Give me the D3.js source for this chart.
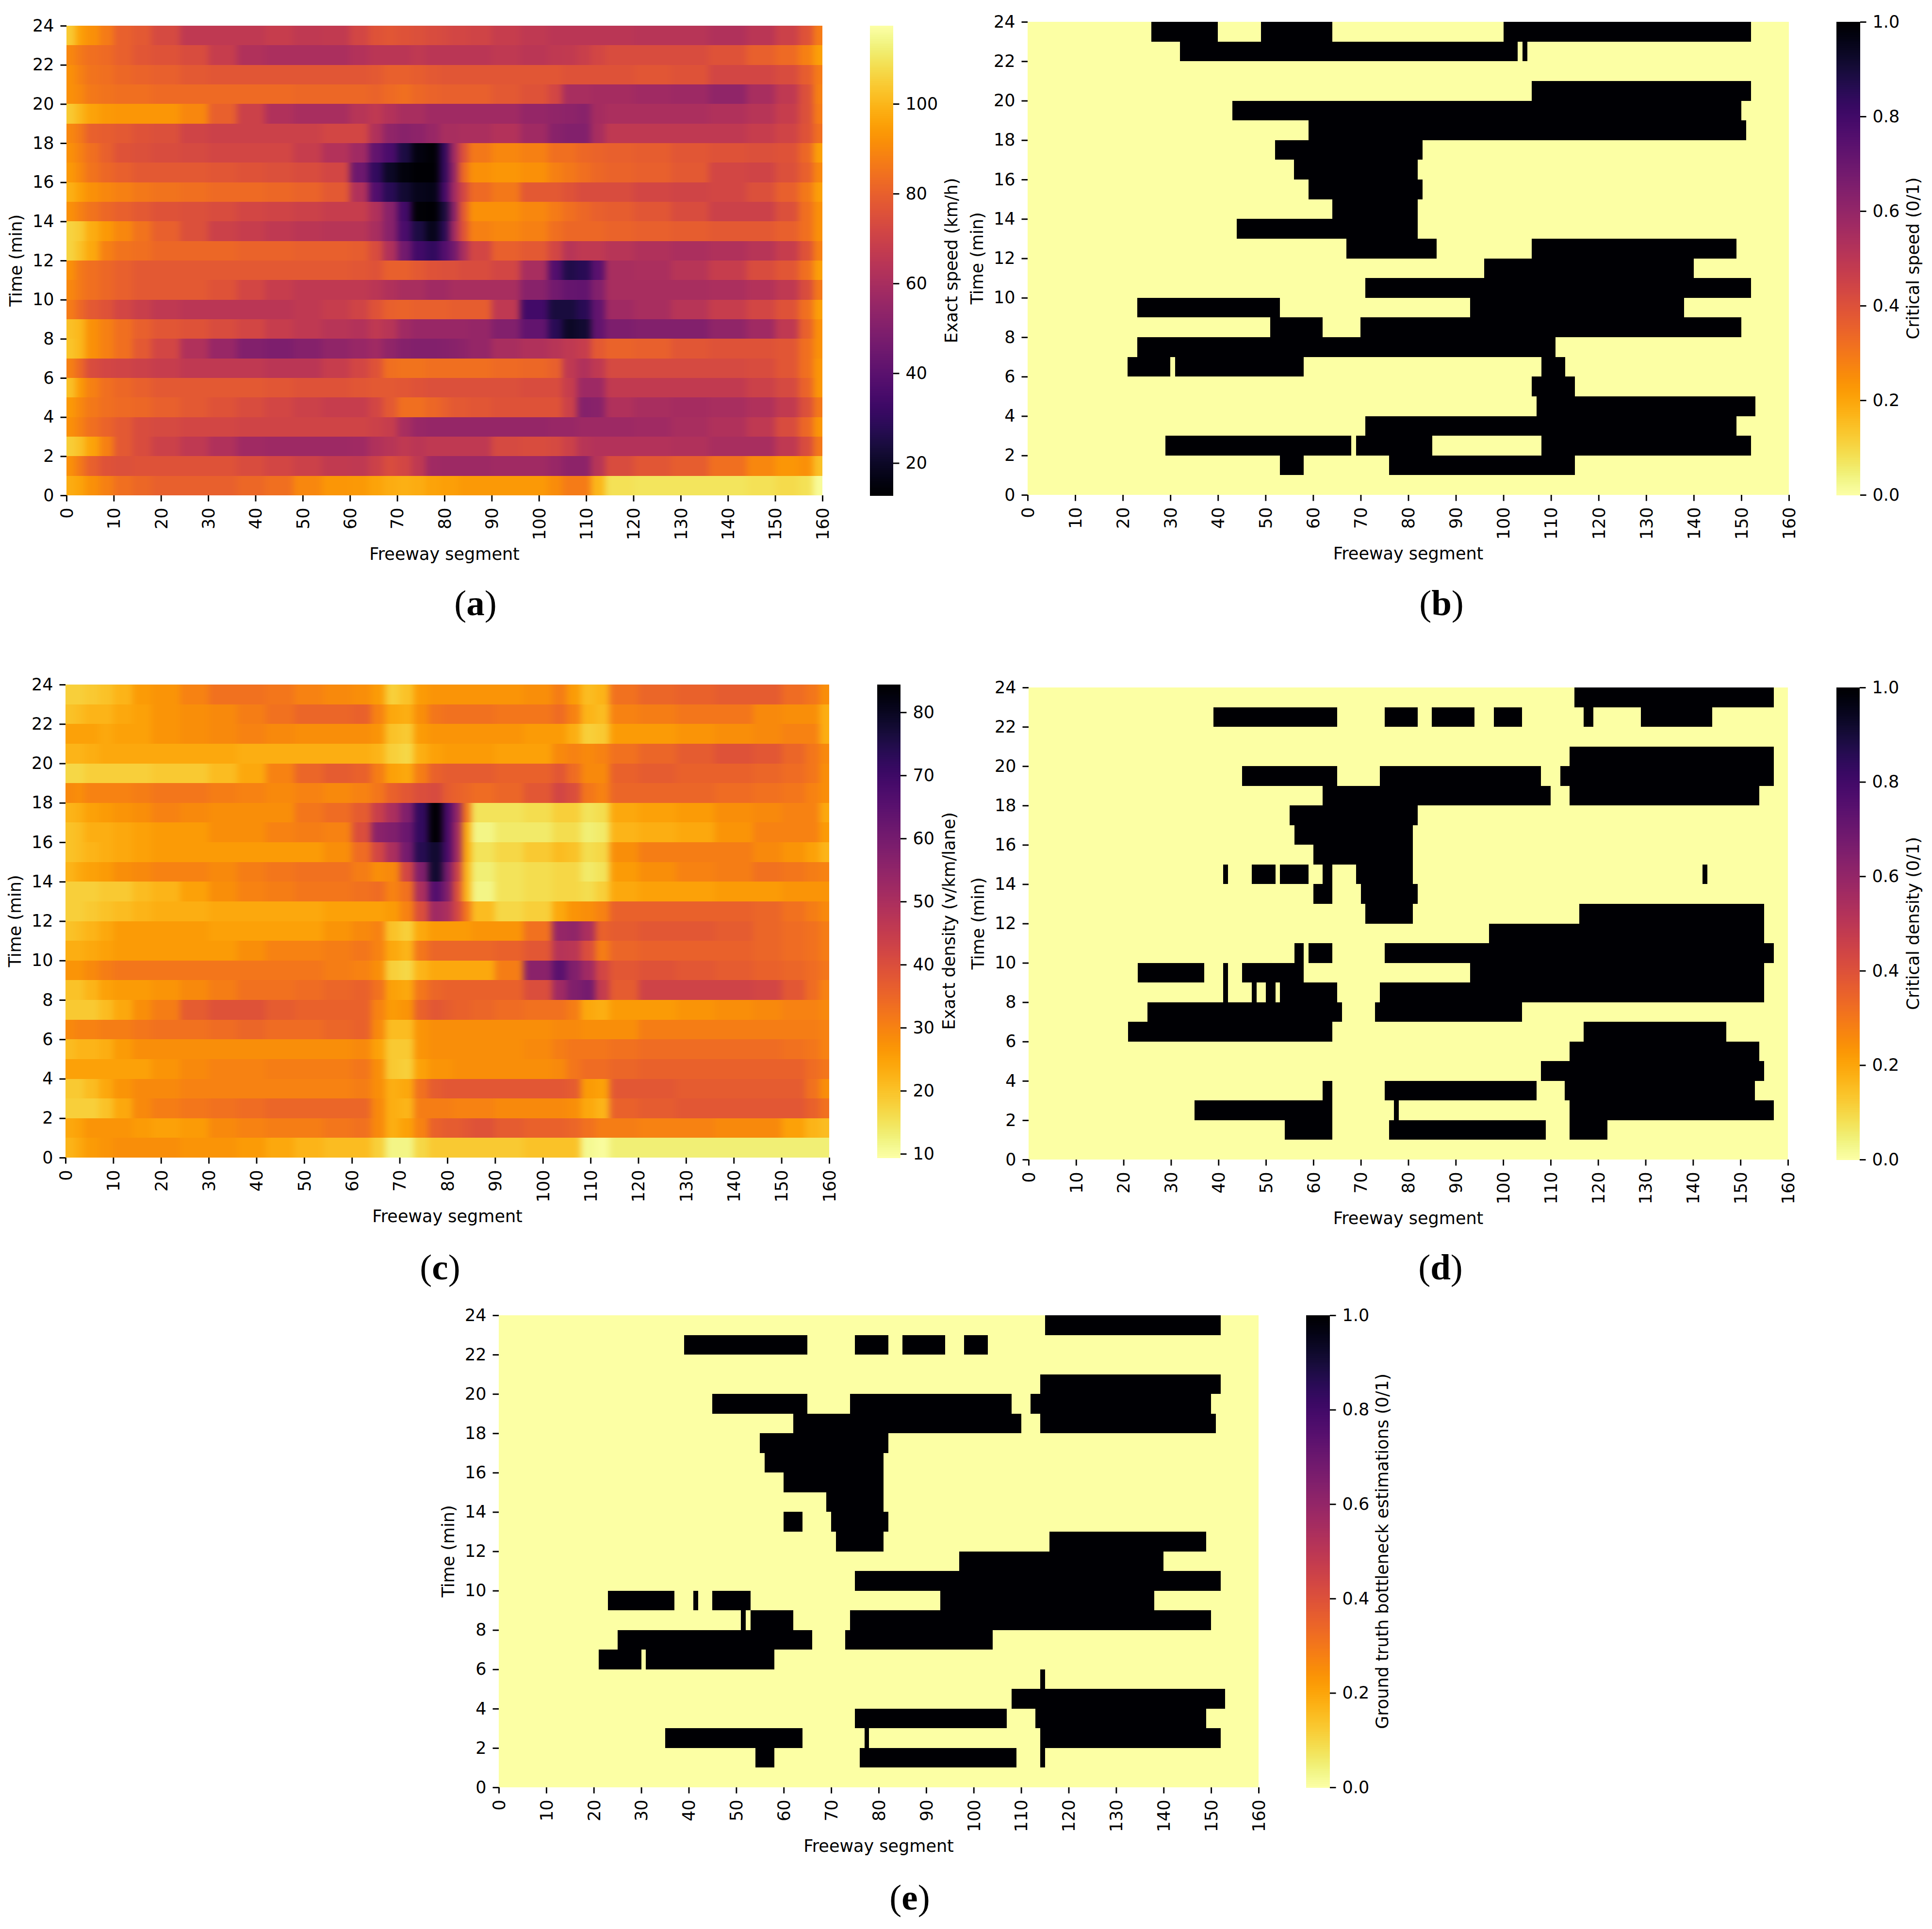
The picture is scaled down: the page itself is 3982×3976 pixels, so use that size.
<!DOCTYPE html>
<html>
<head>
<meta charset="utf-8">
<script src="https://cdn.jsdelivr.net/npm/d3@7"></script>
<style>
  body { margin: 0; background: #ffffff; }
  text { font-family: "DejaVu Sans", sans-serif; fill: #000000; }
  .panel-label { font-family: "Liberation Serif", serif; font-size: 75px; }
</style>
</head>
<body>
<svg width="3982" height="3976"></svg>
<script>
// ***********************************
// Data

// Edges of the freeway segment bands used for the two exact heatmaps:
var segmentEdges = [0,2,4,7,10,14,18,24,30,36,42,48,54,60,64,67,70,73,76,79,81,83,85,90,96,102,105,108,111,114,120,128,136,144,150,155,158,160];

// Exact speed (km/h), first row is minute 23-24, last row is minute 0-1:
var speedRows = [
  [104,95,92,87,80,78,73,66,66,66,68,66,67,72,76,77,76,75,74,73,72,72,71,68,66,65,65,65,65,65,64,64,62,65,70,76,87],
  [90,86,84,83,80,77,76,74,68,62,61,61,61,63,65,65,65,66,65,65,65,65,65,66,65,66,67,69,72,74,74,74,76,80,83,88,95],
  [92,88,85,84,82,81,80,78,77,77,77,77,77,77,78,80,80,79,78,77,77,77,77,77,77,77,76,76,76,76,77,76,72,72,74,79,87],
  [92,90,86,85,84,84,83,83,83,83,83,82,82,82,81,83,84,82,81,80,80,80,80,78,76,72,60,60,59,59,58,57,54,60,66,75,88],
  [104,100,96,94,93,93,93,90,80,70,62,60,60,64,66,63,60,60,58,58,58,58,58,58,55,54,53,52,59,61,61,61,62,64,68,75,87],
  [90,86,80,79,78,76,75,71,70,70,70,70,72,72,62,54,52,53,56,60,60,61,61,63,58,52,50,50,60,66,66,66,66,68,71,76,84],
  [92,88,84,80,76,75,74,73,72,72,72,68,63,58,42,36,25,16,14,30,58,75,86,90,88,84,84,82,81,80,79,77,76,75,76,82,95],
  [94,90,85,82,80,78,78,78,77,76,75,74,72,45,30,20,15,13,13,30,55,82,92,93,92,88,86,84,82,81,80,78,72,71,75,80,90],
  [99,95,92,90,88,86,85,84,83,83,82,81,78,62,38,28,22,18,17,34,58,72,83,86,78,78,76,74,74,74,72,71,72,75,80,86,95],
  [92,88,85,82,80,78,76,75,74,72,71,70,68,68,62,52,34,14,12,24,52,78,92,92,90,87,84,82,80,79,77,74,70,70,75,84,92],
  [106,104,98,94,90,85,80,75,70,68,66,65,64,64,60,52,36,25,18,28,58,76,88,90,88,84,82,82,82,81,80,79,78,78,80,84,92],
  [106,102,97,88,85,84,82,82,82,81,81,80,80,79,74,62,46,34,30,38,46,60,72,80,78,72,64,66,66,64,62,61,62,64,68,76,88],
  [92,86,84,82,80,78,78,78,78,78,78,78,78,77,76,80,80,78,76,75,75,74,74,72,60,38,26,28,40,60,61,64,68,74,77,84,95],
  [90,86,84,82,80,78,78,78,76,72,68,66,66,66,65,62,60,60,58,58,60,60,60,60,52,46,43,42,50,60,60,60,61,63,66,74,86],
  [87,82,78,76,72,69,66,65,65,65,65,66,68,71,76,80,81,80,80,80,79,79,79,66,34,24,24,28,42,58,60,64,68,72,76,84,95],
  [102,100,92,88,84,80,77,76,74,72,68,66,64,63,66,64,58,56,56,56,56,56,55,50,42,28,20,22,42,49,50,50,54,58,66,80,92],
  [103,100,92,88,84,78,72,62,56,50,49,51,54,56,58,54,51,50,50,51,52,53,55,60,62,64,66,68,78,81,80,77,76,76,77,84,92],
  [88,82,74,72,71,70,68,66,66,66,65,65,68,72,76,84,85,85,84,84,84,84,84,83,82,80,66,62,66,73,73,73,73,74,77,84,93],
  [102,94,88,84,82,80,78,78,78,78,77,76,76,77,78,78,77,76,75,75,75,75,75,75,74,74,68,57,57,67,67,67,67,70,73,81,93],
  [94,90,86,84,83,82,80,78,76,74,72,70,68,68,72,78,84,84,82,80,78,78,77,76,76,76,70,51,52,62,60,59,60,62,67,75,86],
  [92,88,84,81,78,74,73,72,72,71,71,71,71,71,70,68,60,56,55,55,55,55,55,55,55,56,56,57,57,57,58,60,62,66,74,82,93],
  [105,102,96,88,78,74,70,66,62,58,57,57,57,58,62,64,66,65,66,66,66,66,66,73,74,73,70,64,63,63,63,62,60,60,66,74,86],
  [92,86,80,76,75,76,76,76,76,74,72,70,67,66,70,74,72,66,58,57,57,57,57,58,58,56,53,53,64,74,77,79,84,90,93,92,102],
  [98,96,92,88,84,82,80,80,80,82,84,90,93,94,96,98,99,98,96,95,95,94,94,94,94,91,87,87,100,109,110,110,110,109,108,109,116]
];

// Exact density (v/km/lane), same row order as the speed rows:
var densityRows = [
  [18,18,19,20,22,26,27,30,33,33,32,30,29,28,26,18,20,26,27,27,27,27,27,27,28,31,26,21,22,33,35,36,37,37,34,32,28],
  [20,21,22,22,24,25,27,28,29,31,33,35,35,36,30,24,23,28,32,33,33,33,33,32,32,34,30,22,21,30,31,32,32,29,28,28,23],
  [25,25,25,24,25,25,27,28,29,30,29,28,28,28,27,20,19,26,27,27,27,27,27,27,26,26,23,18,19,26,26,27,28,29,30,30,23],
  [22,22,23,24,24,24,24,24,24,23,23,23,23,23,22,18,17,23,25,26,26,26,26,25,25,29,30,29,30,33,35,37,39,38,35,32,29],
  [17,17,18,18,18,18,19,19,21,24,30,35,37,36,31,25,24,31,36,37,37,37,37,36,36,38,34,29,29,36,37,36,36,35,34,32,28],
  [29,28,30,30,30,31,32,32,31,30,29,30,29,30,32,36,38,40,41,37,36,35,34,35,38,42,40,32,30,35,35,35,34,33,32,30,28],
  [22,23,25,26,27,28,30,29,28,28,28,32,34,37,44,50,58,72,84,68,55,32,15,15,16,18,18,15,16,24,25,26,28,29,30,30,24],
  [20,21,23,23,24,25,26,26,28,28,30,31,30,40,56,58,62,72,84,68,52,24,12,14,14,16,16,13,14,22,23,24,27,30,30,30,26],
  [20,21,22,23,24,25,26,26,26,26,26,26,28,34,42,50,60,74,78,68,52,24,15,17,19,21,20,16,17,28,31,31,31,29,27,25,22],
  [22,24,25,26,28,29,30,30,29,31,32,33,33,31,28,29,42,58,78,60,44,22,13,15,16,17,17,14,15,26,28,30,31,33,32,31,30],
  [18,18,18,19,19,21,22,25,28,30,31,32,32,33,34,30,33,50,66,58,40,22,12,15,16,17,17,16,18,24,25,25,26,26,27,27,27],
  [18,18,19,20,21,22,23,23,24,24,24,24,25,25,25,26,30,40,52,50,42,32,21,17,18,24,27,28,30,36,36,36,36,35,33,31,29],
  [20,21,22,24,26,26,26,26,25,25,25,25,27,29,30,20,18,24,26,26,26,26,27,27,33,54,55,50,36,37,38,38,37,35,34,33,31],
  [23,23,24,25,26,26,26,26,26,28,30,30,31,32,30,24,22,32,35,35,35,35,35,36,38,48,47,40,31,35,36,36,36,35,34,33,31],
  [27,27,29,31,32,32,32,32,32,32,32,32,31,30,28,18,17,22,24,24,24,24,24,31,56,65,58,52,42,38,39,38,37,36,35,34,32],
  [20,20,22,25,26,26,27,29,31,33,33,34,35,36,33,25,24,32,35,36,36,36,36,36,40,52,58,60,45,37,43,43,43,42,38,34,30],
  [19,19,19,21,24,28,31,37,39,39,37,36,36,36,30,26,27,36,38,37,36,36,35,34,33,33,31,24,23,26,26,27,28,29,30,30,29],
  [29,30,30,31,31,32,33,33,34,35,34,34,35,36,29,21,21,27,28,28,28,28,28,28,28,29,29,28,28,28,31,31,31,31,31,31,30],
  [21,22,22,23,26,28,28,28,28,28,28,28,28,29,25,19,19,27,28,28,28,28,28,28,29,31,32,32,32,33,34,34,34,34,33,32,30],
  [25,25,25,25,25,25,27,29,30,30,31,31,31,32,28,19,18,25,27,27,28,28,28,28,28,29,32,34,34,35,36,36,36,36,36,34,32],
  [19,19,21,24,27,29,29,30,30,30,30,30,30,31,28,23,24,33,37,38,38,38,38,38,38,38,37,26,25,38,38,37,37,37,37,33,28],
  [18,18,18,20,24,29,31,32,33,34,35,35,35,35,29,23,22,31,31,31,30,30,30,29,29,29,28,24,22,36,37,38,38,38,38,36,33],
  [24,25,27,27,27,26,25,26,29,30,31,31,32,33,29,23,25,30,36,37,37,38,39,37,36,36,35,33,31,31,30,30,29,29,25,22,21],
  [22,24,26,27,28,28,28,27,27,26,24,22,21,21,18,12,12,17,19,19,19,19,19,19,20,20,20,11,10,13,13,13,13,13,13,13,13]
];

// Critical speed (0/1): runs of segments equal to 1, one list per row, minute 23-24 first:
var criticalSpeedRuns = [
  [[26,40],[49,64],[100,152]],
  [[32,103],[104,105]],
  [],
  [[106,152]],
  [[43,150]],
  [[59,151]],
  [[52,83]],
  [[56,82]],
  [[59,83]],
  [[64,82]],
  [[44,82]],
  [[67,86],[106,149]],
  [[96,140]],
  [[71,152]],
  [[23,53],[93,138]],
  [[51,62],[70,150]],
  [[23,111]],
  [[21,30],[31,58],[108,113]],
  [[106,115]],
  [[107,153]],
  [[71,149]],
  [[29,68],[69,85],[108,152]],
  [[53,58],[76,115]],
  []
];

// Critical density (0/1):
var criticalDensityRuns = [
  [[115,157]],
  [[39,65],[75,82],[85,94],[98,104],[117,119],[129,144]],
  [],
  [[114,157]],
  [[45,65],[74,108],[112,157]],
  [[62,110],[114,154]],
  [[55,82]],
  [[56,81]],
  [[60,81]],
  [[41,42],[47,52],[53,59],[62,64],[69,81],[142,143]],
  [[60,64],[70,82]],
  [[71,81],[116,155]],
  [[97,155]],
  [[56,58],[59,64],[75,157]],
  [[23,37],[41,42],[45,58],[93,155]],
  [[41,42],[47,48],[50,52],[53,65],[74,155]],
  [[25,66],[73,104]],
  [[21,64],[117,147]],
  [[114,154]],
  [[108,155]],
  [[62,64],[75,107],[113,153]],
  [[35,64],[77,78],[114,157]],
  [[54,64],[76,109],[114,122]],
  []
];

// Ground truth bottleneck estimations (0/1):
var groundTruthRuns = [
  [[115,152]],
  [[39,65],[75,82],[85,94],[98,103]],
  [],
  [[114,152]],
  [[45,65],[74,108],[112,150]],
  [[62,110],[114,151]],
  [[55,82]],
  [[56,81]],
  [[60,81]],
  [[69,81]],
  [[60,64],[70,82]],
  [[71,81],[116,149]],
  [[97,140]],
  [[75,152]],
  [[23,37],[41,42],[45,53],[93,138]],
  [[51,52],[53,62],[74,150]],
  [[25,66],[73,104]],
  [[21,30],[31,58]],
  [[114,115]],
  [[108,153]],
  [[75,107],[113,149]],
  [[35,64],[77,78],[114,152]],
  [[54,58],[76,109],[114,115]],
  []
];

// Tick labels of both axes and of the colorbars:
var segmentTicks = d3.range(0, 161, 10);
var timeTicks = d3.range(0, 25, 2);
var speedTicks = [20, 40, 60, 80, 100];
var densityTicks = [10, 20, 30, 40, 50, 60, 70, 80];
var binaryTicks = [0, 0.2, 0.4, 0.6, 0.8, 1];

// ***********************************
// Layout of the five panels, measured in page pixels

var panels = [
  {name: "a", left: 137, right: 1695, top: 53, bottom: 1021, barLeft: 1793, barRight: 1841, labelX: 1960,
   rows: speedRows, domain: [12.8, 117.4], ticks: speedTicks, barLabel: "Exact speed (km/h)", tagX: 980, tagY: 1244},
  {name: "b", left: 2118, right: 3687, top: 45, bottom: 1020, barLeft: 3785, barRight: 3834, labelX: 3942,
   runs: criticalSpeedRuns, domain: [1, 0], ticks: binaryTicks, barLabel: "Critical speed (0/1)", tagX: 2971, tagY: 1244},
  {name: "c", left: 135, right: 1709, top: 1411, bottom: 2386, barLeft: 1808, barRight: 1856, labelX: 1955,
   rows: densityRows, domain: [84.4, 9.4], ticks: densityTicks, barLabel: "Exact density (v/km/lane)", tagX: 907, tagY: 2613},
  {name: "d", left: 2120, right: 3685, top: 1417, bottom: 2390, barLeft: 3785, barRight: 3833, labelX: 3942,
   runs: criticalDensityRuns, domain: [1, 0], ticks: binaryTicks, barLabel: "Critical density (0/1)", tagX: 2969, tagY: 2613},
  {name: "e", left: 1028, right: 2594, top: 2711, bottom: 3684, barLeft: 2692, barRight: 2741, labelX: 2848,
   runs: groundTruthRuns, domain: [1, 0], ticks: binaryTicks, barLabel: "Ground truth bottleneck estimations (0/1)", tagX: 1875, tagY: 3912}
];

var tickSize = 12.5,
  tickPad = 13,
  tickWidth = 2.9,
  fontSize = 35,
  bleed = 60;

var svg = d3.select("svg");

panels.forEach(drawPanel);

// ***********************************
// FUNCTIONS

function drawPanel(p) {
  var g = svg.append("g").attr("class", "panel panel-" + p.name);

  var x = d3.scaleLinear().domain([0, 160]).range([p.left, p.right]);
  var y = d3.scaleLinear().domain([0, 24]).range([p.bottom, p.top]);
  var color = d3.scaleSequential(d3.interpolateInferno).domain(p.domain);

  if (p.rows) drawExactCells(g, p, x, y, color);
  else drawBinaryCells(g, p.runs, x, y, color);

  drawAxes(g, p, x, y);
  drawColorbar(g, p, color);

  // The "(a)" tag below the panel, with only the letter in bold:
  var tag = g.append("text")
    .attr("class", "panel-label")
    .attr("x", p.tagX)
    .attr("y", p.tagY + 24)
    .style("text-anchor", "middle");
  tag.append("tspan").text("(");
  tag.append("tspan").style("font-weight", "bold").text(p.name);
  tag.append("tspan").text(")");
}

// One cell per row and segment band. The picture is resampled along the segments,
// so the cells get a small blur in x only, and the outer cells run past the clip
// to keep the blur from fading at the plot edges:
function drawExactCells(g, p, x, y, color) {
  var defs = g.append("defs");
  defs.append("clipPath").attr("id", "clip-" + p.name)
    .append("rect")
    .attr("x", p.left)
    .attr("y", p.top)
    .attr("width", p.right - p.left)
    .attr("height", p.bottom - p.top);
  defs.append("filter").attr("id", "smooth-" + p.name)
    .attr("filterUnits", "userSpaceOnUse")
    .attr("x", p.left - bleed)
    .attr("y", p.top)
    .attr("width", p.right - p.left + 2 * bleed)
    .attr("height", p.bottom - p.top)
    .attr("color-interpolation-filters", "sRGB")
    .append("feGaussianBlur")
    .attr("stdDeviation", "7 0");

  var cells = g.append("g")
    .attr("clip-path", "url(#clip-" + p.name + ")")
    .append("g")
    .attr("filter", "url(#smooth-" + p.name + ")");

  p.rows.forEach(function(row, i) {
    var time = 23 - i;
    cells.append("g").selectAll("rect")
      .data(row)
      .enter().append("rect")
      .attr("x", function(d, j) { return x(segmentEdges[j]) - (j === 0 ? bleed : 0); })
      .attr("y", y(time + 1))
      .attr("width", function(d, j) {
        return x(segmentEdges[j + 1]) - x(segmentEdges[j]) + (j === 0 || j === row.length - 1 ? bleed : 0);
      })
      .attr("height", y(time) - y(time + 1))
      .attr("fill", function(d) { return color(d); })
      .attr("shape-rendering", "crispEdges");
  });
}

// Pale background for the zeros, then a black cell for every run of ones:
function drawBinaryCells(g, runs, x, y, color) {
  g.append("rect")
    .attr("x", x(0))
    .attr("y", y(24))
    .attr("width", x(160) - x(0))
    .attr("height", y(0) - y(24))
    .attr("fill", color(0));

  runs.forEach(function(rowRuns, i) {
    var time = 23 - i;
    g.append("g").selectAll("rect")
      .data(rowRuns)
      .enter().append("rect")
      .attr("x", function(d) { return x(d[0]); })
      .attr("y", y(time + 1))
      .attr("width", function(d) { return x(d[1]) - x(d[0]); })
      .attr("height", y(time) - y(time + 1))
      .attr("fill", color(1))
      .attr("shape-rendering", "crispEdges");
  });
}

function drawAxes(g, p, x, y) {
  var xAxis = g.append("g")
    .attr("transform", "translate(0," + p.bottom + ")")
    .call(d3.axisBottom(x).tickValues(segmentTicks).tickSize(tickSize).tickFormat(d3.format("d")));
  styleAxis(xAxis);
  xAxis.selectAll("text")
    .attr("transform", "rotate(-90)")
    .attr("x", -(tickSize + tickPad))
    .attr("y", 0)
    .attr("dy", "0.35em")
    .style("text-anchor", "end");

  var yAxis = g.append("g")
    .attr("transform", "translate(" + p.left + ",0)")
    .call(d3.axisLeft(y).tickValues(timeTicks).tickSize(tickSize).tickPadding(tickPad).tickFormat(d3.format("d")));
  styleAxis(yAxis);

  g.append("text")
    .attr("x", (p.left + p.right) / 2)
    .attr("y", p.bottom + 133)
    .style("font-size", fontSize + "px")
    .style("text-anchor", "middle")
    .text("Freeway segment");

  g.append("text")
    .attr("transform", "translate(" + (p.left - 92) + "," + ((p.top + p.bottom) / 2) + ") rotate(-90)")
    .style("font-size", fontSize + "px")
    .style("text-anchor", "middle")
    .text("Time (min)");
}

function drawColorbar(g, p, color) {
  var lo = d3.min(p.domain), hi = d3.max(p.domain);
  var barY = d3.scaleLinear().domain([lo, hi]).range([p.bottom, p.top]);

  // The colorbar is a stack of thin slices of the same color scale:
  var slices = d3.range(0, 256).map(function(i) { return lo + (hi - lo) * i / 256; });
  var sliceStep = (hi - lo) / 256;
  g.append("g").selectAll("rect")
    .data(slices)
    .enter().append("rect")
    .attr("x", p.barLeft)
    .attr("y", function(d) { return barY(d + sliceStep); })
    .attr("width", p.barRight - p.barLeft)
    .attr("height", function(d) { return barY(d) - barY(d + sliceStep) + 0.5; })
    .attr("fill", function(d) { return color(d + sliceStep / 2); })
    .attr("shape-rendering", "crispEdges");

  var format = p.ticks === binaryTicks ? d3.format(".1f") : d3.format("d");
  var axis = g.append("g")
    .attr("transform", "translate(" + p.barRight + ",0)")
    .call(d3.axisRight(barY).tickValues(p.ticks).tickSize(tickSize).tickPadding(tickPad).tickFormat(format));
  styleAxis(axis);

  g.append("text")
    .attr("transform", "translate(" + (p.labelX + 13) + "," + ((p.top + p.bottom) / 2) + ") rotate(-90)")
    .style("font-size", fontSize + "px")
    .style("text-anchor", "middle")
    .text(p.barLabel);
}

function styleAxis(axis) {
  axis.select(".domain").remove();
  axis.selectAll("line").attr("stroke", "#000000").attr("stroke-width", tickWidth);
  axis.selectAll("text")
    .attr("fill", "#000000")
    .style("font-family", '"DejaVu Sans", sans-serif')
    .style("font-size", fontSize + "px");
}
</script>
</body>
</html>
